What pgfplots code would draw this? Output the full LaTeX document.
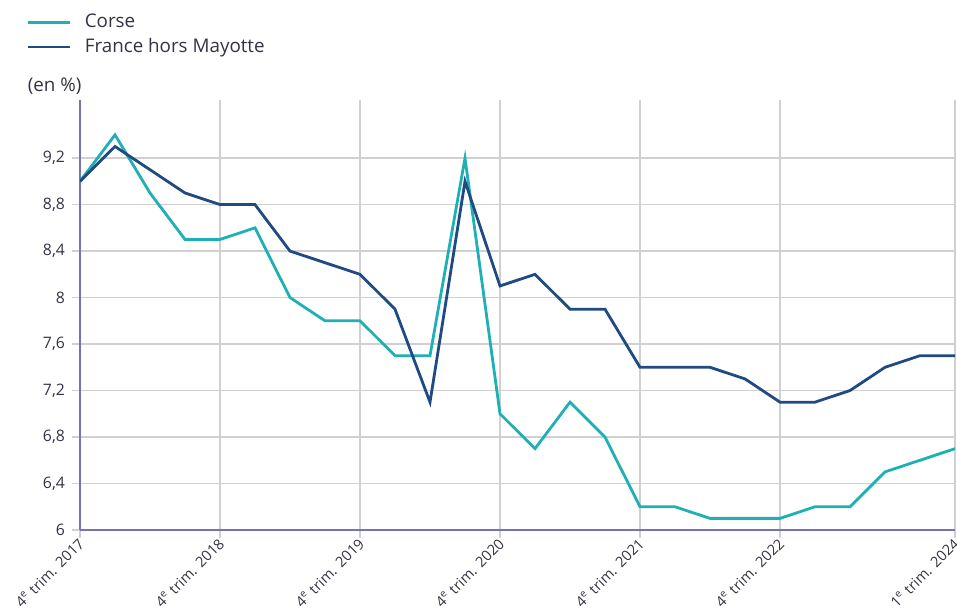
\documentclass[border=0pt]{standalone}
\usepackage{pgfplots}
\pgfplotsset{compat=1.18}
\usepackage{fontspec}
\setmainfont{Open Sans}
\definecolor{corse}{HTML}{1FB0B6}
\definecolor{france}{HTML}{1F4A82}
\definecolor{axiscol}{HTML}{7474B4}
\definecolor{gridcol}{HTML}{D0D0D0}
\definecolor{txt}{HTML}{333344}
\begin{document}
\begin{tikzpicture}[x=1pt,y=1pt]
\begin{axis}[
  at={(0,0)}, anchor=south west,
  scale only axis, width=437.5pt, height=215pt,
  xmin=0, xmax=25, ymin=6, ymax=9.7,
  clip mode=individual,
  axis lines=left, axis line style={axiscol, line width=1.1pt, -},
  xtick={0,4,8,12,16,20,25},
  xticklabels={4\textsuperscript{e} trim. 2017, 4\textsuperscript{e} trim. 2018, 4\textsuperscript{e} trim. 2019, 4\textsuperscript{e} trim. 2020, 4\textsuperscript{e} trim. 2021, 4\textsuperscript{e} trim. 2022, 1\textsuperscript{e} trim. 2024},
  xticklabel style={rotate=45, anchor=east, font=\fontsize{7.3}{9}\selectfont, text=txt, inner sep=1pt, yshift=-1.5pt, xshift=0.5pt},
  ytick={6,6.4,...,9.3},
  yticklabel style={font=\fontsize{7.9}{9}\selectfont, text=txt},
  /pgf/number format/.cd, use comma, fixed, precision=1, assume math mode=true,
  /pgfplots/.cd,
  grid=major, major grid style={gridcol, line width=0.8pt},
  tick style={gridcol, line width=0.8pt}, tick align=outside, major tick length=4pt,
  legend style={draw=none, fill=none, at={(-0.061,1.206)}, anchor=north west,
    font=\fontsize{9.4}{11}\selectfont, text=txt, row sep=2pt, inner sep=0pt,
    nodes={inner sep=1pt}},
  legend cell align=left,
  legend image code/.code={\draw[#1, line width=1.4pt] (0pt,0pt) -- (21pt,0pt);},
]
\addplot[corse, line width=1.4pt] coordinates {
 (0,9.0) (1,9.4) (2,8.9) (3,8.5) (4,8.5) (5,8.6) (6,8.0) (7,7.8) (8,7.8)
 (9,7.5) (10,7.5) (11,9.2) (12,7.0) (13,6.7) (14,7.1) (15,6.8) (16,6.2)
 (17,6.2) (18,6.1) (19,6.1) (20,6.1) (21,6.2) (22,6.2) (23,6.5) (24,6.6) (25,6.7)};
\addlegendentry{\hspace*{5.5pt}Corse}
\addplot[france, line width=1.4pt] coordinates {
 (0,9.0) (1,9.3) (2,9.1) (3,8.9) (4,8.8) (5,8.8) (6,8.4) (7,8.3) (8,8.2)
 (9,7.9) (10,7.1) (11,9.0) (12,8.1) (13,8.2) (14,7.9) (15,7.9) (16,7.4)
 (17,7.4) (18,7.4) (19,7.3) (20,7.1) (21,7.1) (22,7.2) (23,7.4) (24,7.5) (25,7.5)};
\addlegendentry{\hspace*{5.5pt}France hors Mayotte}
\node[anchor=center, font=\fontsize{9.4}{11}\selectfont, text=txt] at (rel axis cs:-0.029,1.033) {(en \%)};
\end{axis}
\pgfresetboundingbox
\path (-40pt,-40pt) rectangle (438.5pt,265pt);
\end{tikzpicture}
\end{document}
